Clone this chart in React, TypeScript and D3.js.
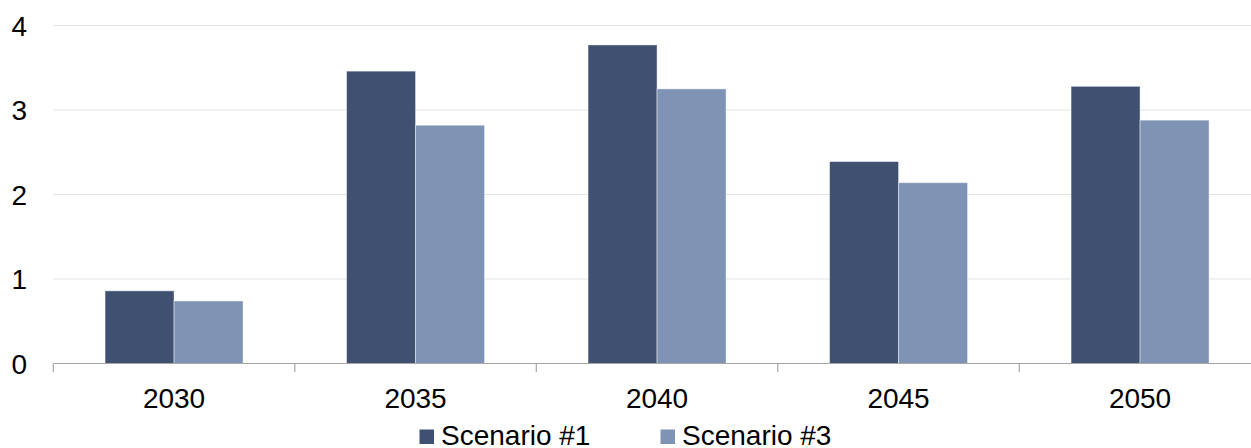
import React from 'react';
import * as d3 from 'd3';

const years = ['2030', '2035', '2040', '2045', '2050'];
const scenario1 = [0.86, 3.46, 3.77, 2.39, 3.28];
const scenario3 = [0.74, 2.82, 3.25, 2.14, 2.88];
const yTicks = [0, 1, 2, 3, 4];
const seriesNames = ['Scenario #1', 'Scenario #3'];
const colors = ['#3f5070', '#7f93b5'];

const W = 1251;
const H = 448;
const margin = { top: 25.5, right: -9.8, bottom: 84.5, left: 53.3 };
const FONT = '"Liberation Sans", Arial, sans-serif';

const App = () => {
  const x = d3
    .scaleBand<string>()
    .domain(years)
    .range([margin.left, W - margin.right])
    .paddingInner(0.4286)
    .paddingOuter(0.2143);
  const step = x.step();
  const xInner = d3.scaleBand<number>().domain([0, 1]).range([0, x.bandwidth()]);
  const y = d3.scaleLinear().domain([0, 4]).range([H - margin.bottom, margin.top]);
  const series = [scenario1, scenario3];
  const boundaries = years.map((_, i) => margin.left + i * step);

  const legendX = [419.5, 660.5];

  return (
    <svg
      width={W}
      height={H}
      style={{ position: 'absolute', left: 0, top: 0, background: '#fff' }}
      fontFamily={FONT}
    >
      {/* grid */}
      {yTicks.slice(1).map((t) => (
        <line key={t} x1={margin.left} x2={W} y1={y(t)} y2={y(t)} stroke="#e3e3e3" strokeWidth={1.2} />
      ))}
      {yTicks.map((t) => (
        <text key={t} x={27} y={y(t)} dy="0.36em" textAnchor="end" fontSize={28} fill="#000">
          {t}
        </text>
      ))}

      {/* bars */}
      {years.map((yr, i) => (
        <g key={yr} transform={`translate(${x(yr)},0)`}>
          {series.map((s, j) => (
            <rect
              key={j}
              x={xInner(j)}
              y={y(s[i])}
              width={xInner.bandwidth()}
              height={y(0) - y(s[i])}
              fill={colors[j]}
              stroke="#ffffff"
              strokeOpacity={0.45}
              strokeWidth={1}
            />
          ))}
        </g>
      ))}

      {/* x axis */}
      <line x1={margin.left} x2={W} y1={y(0)} y2={y(0)} stroke="#a6a6a6" strokeWidth={1.2} />
      {boundaries.map((b, i) => (
        <line key={i} x1={b} x2={b} y1={y(0)} y2={y(0) + 8.5} stroke="#a6a6a6" strokeWidth={1.2} />
      ))}
      {years.map((yr) => (
        <text key={yr} x={x(yr)! + x.bandwidth() / 2} y={408} textAnchor="middle" fontSize={28} fill="#000">
          {yr}
        </text>
      ))}

      {/* legend */}
      {seriesNames.map((name, j) => (
        <g key={name}>
          <rect x={legendX[j]} y={429.5} width={14.5} height={14.5} fill={colors[j]} />
          <text x={legendX[j] + 21.5} y={445} fontSize={28} fill="#000">
            {name}
          </text>
        </g>
      ))}
    </svg>
  );
};

export default App;
